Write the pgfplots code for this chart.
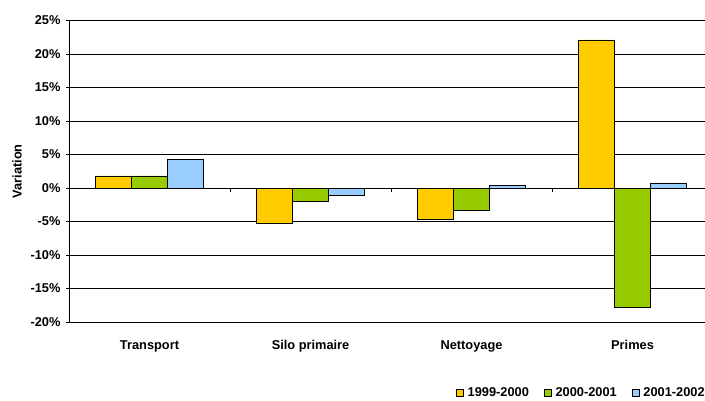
\documentclass[border=0pt]{standalone}
\usepackage{pgfplots}
\pgfplotsset{compat=1.18}
\usepackage{fontspec}
\setmainfont{Liberation Sans}
\definecolor{cA}{HTML}{FFCC00}
\definecolor{cB}{HTML}{99CC00}
\definecolor{cC}{HTML}{99CCFF}
\newcommand{\ff}{\bfseries\fontsize{12.8}{15}\selectfont}
\begin{document}
\begin{tikzpicture}[x=1pt,y=1pt]
\useasboundingbox (0,0) rectangle (705,400);
\begin{axis}[
  at={(69pt,78pt)}, anchor=south west,
  scale only axis, width=636pt, height=301.5pt,
  ymin=-20, ymax=25, ytick={-20,-15,...,25},
  xmin=-0.5, xmax=3.45,
  xtick={0,1,2,3},
  xticklabels={Transport, Silo primaire, Nettoyage, Primes},
  axis y line*=left, axis x line*=bottom,
  x axis line style={draw=none},
  y axis line style={black, line width=0.8pt},
  xtick style={draw=none},
  ytick style={black, line width=0.8pt},
  tick align=outside, major tick length=3pt,
  ymajorgrids, grid style={black, line width=0.8pt},
  /pgf/number format/assume math mode=true,
  yticklabel={\pgfmathprintnumber{\tick}\%},
  yticklabel style={font=\ff, xshift=-2pt},
  xticklabel style={font=\ff, anchor=base, yshift=-24pt},
  ylabel={Variation},
  every axis y label/.append style={at={(axis description cs:-0.0818,0.5)}, anchor=center, font=\ff},
  ybar=0pt, bar width=36pt,
  every axis plot/.append style={draw=black, line width=0.8pt},
  legend style={at={(1.003,-0.2355)}, anchor=east, draw=none, inner sep=0pt,
    font=\ff, legend columns=3,
    /tikz/every even column/.append style={column sep=13pt}},
  legend image code/.code={\draw[#1,draw=black,line width=0.6pt] (0pt,-3.5pt) rectangle (7pt,3.5pt); \path (9pt,0pt);},
]
\addplot[fill=cA] coordinates {(0,1.8) (1,-5.3) (2,-4.7) (3,22.1)};
\addplot[fill=cB] coordinates {(0,1.8) (1,-2.0) (2,-3.4) (3,-17.8)};
\addplot[fill=cC] coordinates {(0,4.3) (1,-1.1) (2,0.4) (3,0.75)};
\legend{1999-2000, 2000-2001, 2001-2002}
\draw[black, line width=0.8pt] (axis cs:0.5,0) -- (axis cs:0.5,-0.6);
\draw[black, line width=0.8pt] (axis cs:1.5,0) -- (axis cs:1.5,-0.6);
\draw[black, line width=0.8pt] (axis cs:2.5,0) -- (axis cs:2.5,-0.6);
\end{axis}
\end{tikzpicture}
\end{document}
